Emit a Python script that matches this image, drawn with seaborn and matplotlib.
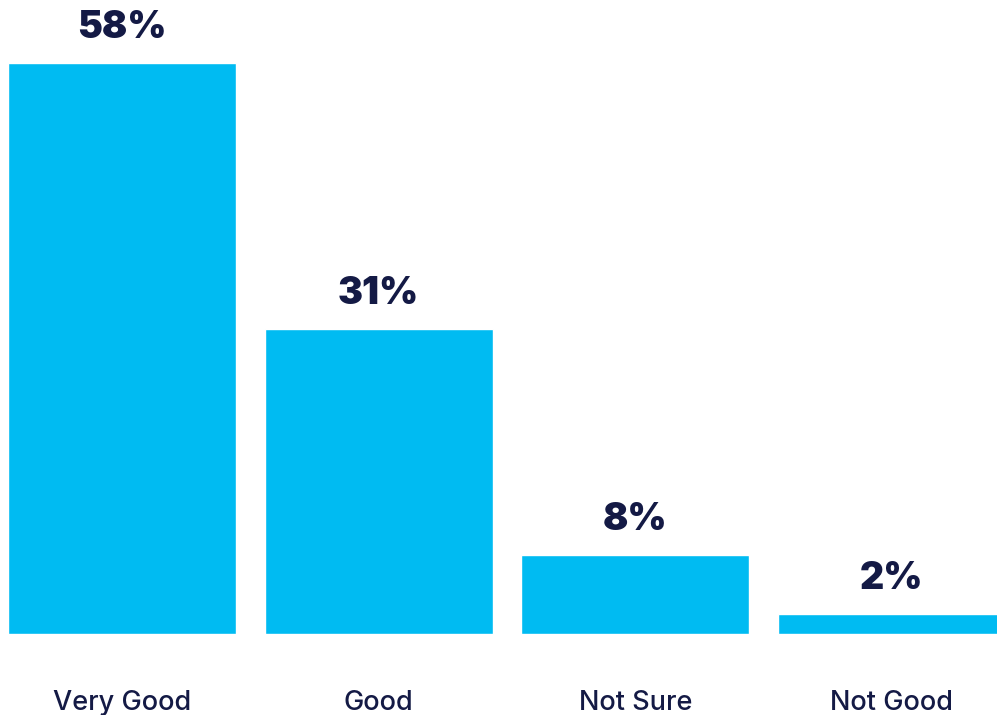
import matplotlib
matplotlib.use("Agg")
import matplotlib.pyplot as plt
import seaborn as sns
import pandas as pd

categories = ["Very Good", "Good", "Not Sure", "Not Good"]
values = [58, 31, 8, 2]
labels = ["58%", "31%", "8%", "2%"]

bar_color = "#00BBF2"
text_color = "#141A45"

sns.set_theme(style="white")
plt.rcParams['font.family'] = ['Inter', 'DejaVu Sans']

df = pd.DataFrame({"cat": categories, "val": values})

fig = plt.figure(figsize=(9.97, 7.15), dpi=100)
ax = fig.add_axes([0, (715 - 634) / 715, 1, 571 / 715])

sns.barplot(data=df, x="cat", y="val", color=bar_color, width=0.89,
            saturation=1, ax=ax)

ax.set_ylim(0, 58)
ax.set_xlim(-0.476, 3.41)
for s in ax.spines.values():
    s.set_visible(False)
ax.set_yticks([])
ax.set_xlabel("")
ax.set_ylabel("")
ax.tick_params(axis="x", length=0, pad=40, labelsize=19.5, labelcolor=text_color)
for t in ax.get_xticklabels():
    t.set_fontweight("medium")

for i, (v, lab) in enumerate(zip(values, labels)):
    ax.annotate(lab, xy=(i, v), xytext=(0, 17), textcoords="offset pixels",
                ha="center", va="bottom", fontsize=27, fontweight="black",
                color=text_color, annotation_clip=False)

fig.savefig("out.png", dpi=100)
